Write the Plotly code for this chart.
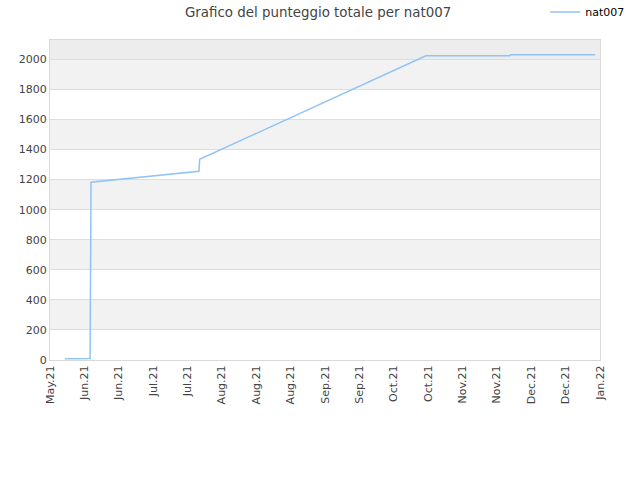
import numpy as np
import plotly.graph_objects as go

# days since start of x range, and total score
days = [6.5, 17.5, 17.9, 65, 65.3, 164, 200.7, 201, 237.8]
score = [8, 10, 1183, 1256, 1335, 2024, 2024, 2031, 2031]

tick_labels = ['May.21', 'Jun.21', 'Jun.21', 'Jul.21', 'Jul.21', 'Aug.21', 'Aug.21',
               'Aug.21', 'Sep.21', 'Sep.21', 'Oct.21', 'Oct.21', 'Nov.21', 'Nov.21',
               'Dec.21', 'Dec.21', 'Jan.22']

x_max = 240
y_max = 2129
tick_pos = np.linspace(0, x_max, len(tick_labels))

# alternating background bands
shapes = []
for lo in range(200, 2000, 400):
    shapes.append(dict(type='rect', xref='paper', yref='y', x0=0, x1=1, y0=lo, y1=lo + 200,
                       fillcolor='#f2f2f2', line=dict(width=0), layer='below'))
shapes.append(dict(type='rect', xref='paper', yref='y', x0=0, x1=1, y0=2000, y1=y_max,
                   fillcolor='#ededed', line=dict(width=0), layer='below'))

trace = go.Scatter(
    x=days,
    y=score,
    mode='lines',
    name='nat007',
    line=dict(color='#90c3f5', width=1.5),
)

fig = go.Figure(data=[trace])
fig.update_layout(
    width=640, height=480,
    margin=dict(l=50, r=40, t=40, b=120, autoexpand=False),
    paper_bgcolor='white', plot_bgcolor='white',
    font=dict(family='DejaVu Sans', size=11, color='#444444'),
    title=dict(text='Grafico del punteggio totale per nat007', x=0.497, y=0.975,
               xanchor='center', yanchor='middle', yref='container',
               font=dict(size=13.4, color='#444444')),
    showlegend=True,
    legend=dict(x=1.055, y=1.0875, xanchor='right', yanchor='middle',
                font=dict(size=11, color='#000000'), bgcolor='rgba(0,0,0,0)',
                itemwidth=30),
    shapes=shapes,
    xaxis=dict(range=[0, x_max], tickmode='array', tickvals=tick_pos, ticktext=tick_labels,
               tickangle=-90, showgrid=False, zeroline=False, showline=True,
               linecolor='#d9d9d9', mirror=True, ticks='', automargin=False),
    yaxis=dict(range=[0, y_max], tickmode='array', tickvals=list(range(0, 2001, 200)),
               showgrid=True, gridcolor='#dddddd', zeroline=False, showline=True,
               linecolor='#d9d9d9', mirror=True, ticks='', automargin=False),
)

# drop the browser's default page margin so the figure sits at the top-left corner
fig.write_html('out.html', config={'displayModeBar': False},
               post_script="document.body.style.margin='0px';")
